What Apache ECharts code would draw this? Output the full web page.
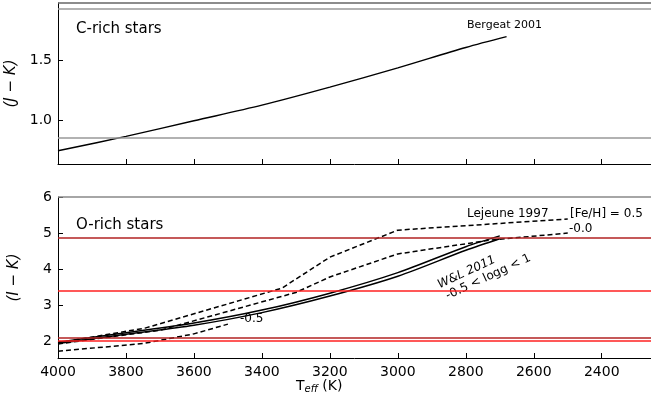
<!DOCTYPE html>
<html><head><meta charset="utf-8">
<script src="https://cdn.jsdelivr.net/npm/echarts@6/dist/echarts.min.js"></script>
<style>html,body{margin:0;padding:0;background:#fff}#main{width:651px;height:401px}</style>
</head><body><div id="main"></div>
<script>
var bergeat = [[4000,0.75],[3800,0.87],[3600,1.0],[3400,1.13],[3200,1.28],[3000,1.44],[2800,1.61],[2680,1.70]];
var wlUpper = [[4000,1.97],[3800,2.23],[3600,2.5],[3400,2.86],[3200,3.33],[3000,3.9],[2800,4.62],[2700,4.92]];
var wlLower = [[4000,1.93],[3800,2.19],[3600,2.44],[3400,2.79],[3200,3.25],[3000,3.8],[2800,4.52],[2700,4.84]];
var lej05 = [[4000,1.95],[3744,2.36],[3341,3.47],[3200,4.33],[3000,5.08],[2500,5.39]];
var lej00 = [[4000,1.92],[3700,2.3],[3300,3.35],[3200,3.78],[3000,4.42],[2730,4.8],[2500,5.0]];
var lejm05 = [[4000,1.72],[3750,1.93],[3600,2.2],[3500,2.47]];
var grayLinesTop = [1.925, 0.86];
var xTicks = [4000,3800,3600,3400,3200,3000,2800,2600,2400];
var topTicks = [1.0, 1.5];
var botTicks = [2,3,4,5,6];

var font = 'DejaVu Sans';
function xAxis(idx, labels) {
	return {
		type: 'value', gridIndex: idx, min: 2255, max: 4000, inverse: true,
		axisLine: {show: true, onZero: false, lineStyle: {color: '#000'}},
		axisTick: {show: true, inside: true, length: 5, customValues: xTicks, lineStyle: {color: '#000'}},
		axisLabel: {show: labels, customValues: xTicks, color: '#000', fontSize: 14, fontFamily: font, margin: 7,
			formatter: function(v) { return String(v); }},
		splitLine: {show: false}
	};
}
function yAxis(idx, min, max, ticks, name) {
	return {
		type: 'value', gridIndex: idx, min: min, max: max,
		name: name, nameLocation: 'middle', nameGap: 36, nameRotate: 90,
		nameTextStyle: {color: '#000', fontSize: 15, fontFamily: font, fontStyle: 'italic'},
		axisLine: {show: true, lineStyle: {color: '#000'}},
		axisTick: {show: true, inside: true, length: 5, customValues: ticks, lineStyle: {color: '#000'}},
		axisLabel: {customValues: ticks, color: '#000', fontSize: 14, fontFamily: font, margin: 6,
			formatter: function(v) { return idx === 0 ? v.toFixed(1) : String(v); }},
		splitLine: {show: false}
	};
}
function hlines(vals, color, w) {
	return vals.map(function(v) { return {yAxis: v, lineStyle: {color: color, width: w, type: 'solid'}}; });
}
function line(data, xi, dashed, extra) {
	var s = {type: 'line', xAxisIndex: xi, yAxisIndex: xi, data: data, smooth: dashed ? false : 0.3, symbol: 'none',
		lineStyle: {color: '#000', width: 1.5, type: dashed ? [5, 3] : 'solid'}, silent: true, z: 3};
	if (extra) s.markLine = {silent: true, symbol: 'none', label: {show: false}, data: extra};
	return s;
}

var myChart = echarts.init(document.getElementById('main'));
var option = {
	animation: false,
	grid: [
		{left: 58, top: 3, height: 161, right: 0, outerBoundsMode: 'none'},
		{left: 58, top: 197, height: 161, right: 0, outerBoundsMode: 'none'}
	],
	xAxis: [xAxis(0, false), xAxis(1, true)],
	yAxis: [yAxis(0, 0.64, 1.98, topTicks, '(J − K)'), yAxis(1, 1.53, 6, botTicks, '(I − K)')],
	series: [
		line(bergeat, 0, false, hlines([1.98], '#666', 1.5).concat(hlines(grayLinesTop, '#999', 1.5))),
		line(lej05, 1, true, hlines([6], '#888', 1.5).concat(hlines([4.88, 2.1], '#b22222', 1.5), hlines([3.4, 2.0], '#ff2020', 1.5))),
		line(lej00, 1, true),
		line(lejm05, 1, true),
		line(wlUpper, 1, false),
		line(wlLower, 1, false)
	],
	graphic: [
		{type: 'text', left: 76, top: 22, style: {text: 'C-rich stars', font: '15px ' + font, fill: '#000'}},
		{type: 'text', left: 467, top: 20, style: {text: 'Bergeat 2001', font: '11px ' + font, fill: '#000'}},
		{type: 'text', left: 76, top: 218, style: {text: 'O-rich stars', font: '15px ' + font, fill: '#000'}},
		{type: 'text', left: 467, top: 208, style: {text: 'Lejeune 1997', font: '12px ' + font, fill: '#000'}},
		{type: 'text', left: 570, top: 208, style: {text: '[Fe/H] = 0.5', font: '12px ' + font, fill: '#000'}},
		{type: 'text', left: 569, top: 223, style: {text: '-0.0', font: '12px ' + font, fill: '#000'}},
		{type: 'text', left: 240, top: 313, style: {text: '-0.5', font: '12px ' + font, fill: '#000'}},
		{type: 'text', x: 436, y: 280, rotation: 25 * Math.PI / 180, style: {text: 'W&L 2011', font: 'italic 12px ' + font, fill: '#000'}},
		{type: 'text', x: 444, y: 291, rotation: 25 * Math.PI / 180, style: {text: '-0.5 < logg < 1', font: '12px ' + font, fill: '#000'}},
		{type: 'text', left: 296, top: 379, style: {rich: {a: {fontSize: 14, fontFamily: font}, s: {fontSize: 10, fontFamily: font, fontStyle: 'italic', padding: [6, 0, 0, 0]}}, text: '{a|T}{s|eff}{a| (K)}', fill: '#000'}}
	]
};
myChart.setOption(option);
</script></body></html>
